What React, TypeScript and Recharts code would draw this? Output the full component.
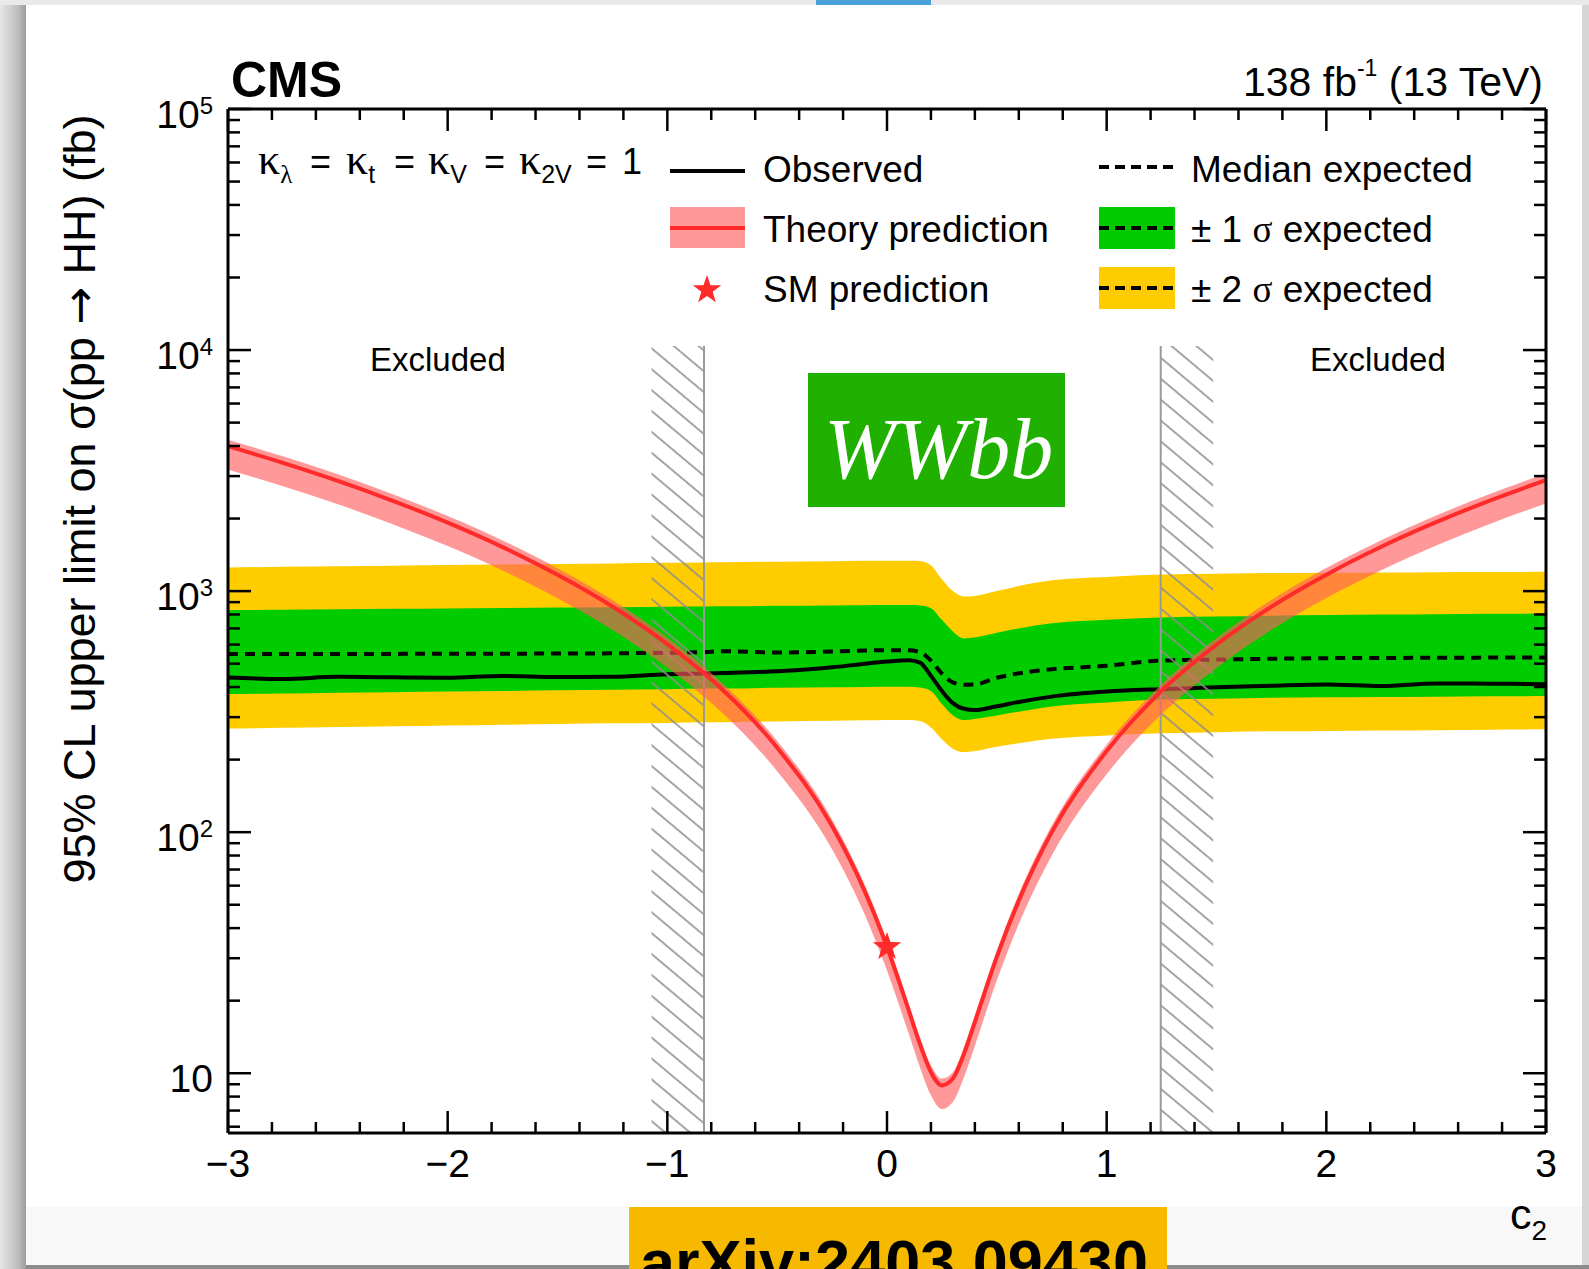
// App.tsx
//
// CMS HH → WWbb upper limit on σ(pp → HH) versus c2, log-scale y axis.
// Expected ±1σ / ±2σ bands, observed and median expected limits,
// theory prediction with its uncertainty band and the SM point.

import {
  ComposedChart,
  Area,
  Line,
  Scatter,
  XAxis,
  YAxis,
  ReferenceArea,
  ReferenceLine,
} from 'recharts';

// ─── Data ─────────────────────────────────────────────────────────────────────

const c2Grid = [
  -3, -2.75, -2.5, -2.25, -2, -1.75, -1.5, -1.25, -1, -0.833, -0.75, -0.5, -0.25, -0.1,
  0, 0.1, 0.15, 0.2, 0.25, 0.3, 0.35, 0.4, 0.5, 0.6, 0.75, 1, 1.246, 1.5, 1.75, 2, 2.25,
  2.5, 2.75, 3,
];

const theoryCentral = [
  3990, 3405, 2865, 2370, 1923, 1523, 1169, 863, 603, 456, 391, 224, 106, 56.5,
  33.4, 18.1, 13.2, 10.1, 8.9, 9.5, 12.0, 16.3, 30.4, 52, 100, 217, 383, 600, 862, 1170, 1528,
  1932, 2386, 2886,
];
const theoryUp = [
  4250, 3625, 3050, 2525, 2048, 1622, 1245, 919, 642, 486, 416, 239, 113, 60.2,
  35.6, 19.3, 14.1, 10.8, 9.5, 10.1, 12.8, 17.4, 32.4, 55.4, 106.5, 231, 408, 639, 918, 1246, 1627,
  2058, 2541, 3074,
];
const theoryDown = [
  3192, 2724, 2292, 1896, 1538, 1218, 935, 690, 482, 365, 313, 179, 85, 45.2,
  26.7, 14.5, 10.6, 8.1, 7.1, 7.6, 9.6, 13.0, 24.3, 41.6, 80, 174, 306, 480, 690, 936, 1222,
  1546, 1909, 2309,
];

const observedLimit = [
  438, 432, 441, 439, 437, 445, 440, 441, 452, 455, 457, 465, 483, 500,
  510, 517, 505, 445, 385, 343, 325, 321, 333, 347, 365, 383, 392, 399, 405, 410, 404,
  414, 413, 411,
];
const expectedLimit = [
  548, 548, 549, 549, 550, 550, 551, 552, 555, 558, 563, 556, 562, 567,
  569, 568, 558, 515, 455, 418, 409, 410, 437, 456, 474, 490, 515, 520, 524, 527, 528,
  529, 530, 531,
];
const exp1SigmaUp = [
  834, 837, 841, 844, 848, 851, 855, 858, 862, 864, 865, 869, 872, 874,
  875, 876, 872, 850, 760, 680, 636, 643, 672, 700, 735, 760, 778, 785, 791, 796, 799,
  802, 805, 807,
];
const exp1SigmaDown = [
  374, 376, 379, 381, 383, 385, 388, 390, 392, 394, 394, 397, 399, 400,
  401, 401, 398, 385, 340, 305, 292, 295, 305, 316, 332, 345, 355, 358, 361, 363, 364,
  365, 366, 367,
];
const exp2SigmaUp = [
  1254, 1261, 1268, 1275, 1282, 1289, 1296, 1303, 1310, 1315, 1317, 1324, 1331, 1335,
  1337, 1338, 1333, 1280, 1120, 1000, 950, 955, 1000, 1050, 1110, 1145, 1172, 1180, 1188,
  1192, 1195, 1198, 1200, 1202,
];
const exp2SigmaDown = [
  269, 271, 273, 275, 277, 279, 281, 283, 284, 286, 286, 288, 290, 291,
  292, 292, 289, 272, 243, 222, 215, 217, 226, 234, 244, 252, 257, 260, 262, 263, 264,
  265, 266, 267,
];

const smC2 = [0];
const smXsec = [33.4];

// excluded c2 ranges (hatched), and how high the hatching reaches
const excludedLeft = [-1.072, -0.833];
const excludedRight = [1.246, 1.485];
const excludedTop = 10400;

// ─── Axes ─────────────────────────────────────────────────────────────────────

const X_DOMAIN = [-3, 3];
const Y_DOMAIN = [5.65, 100000];

const xMajorTicks = [-3, -2, -1, 0, 1, 2, 3];
const xMajorLabels = ['−3', '−2', '−1', '0', '1', '2', '3'];
const xMinorTicks = [
  -2.8, -2.6, -2.4, -2.2, -1.8, -1.6, -1.4, -1.2, -0.8, -0.6, -0.4, -0.2,
  0.2, 0.4, 0.6, 0.8, 1.2, 1.4, 1.6, 1.8, 2.2, 2.4, 2.6, 2.8,
];

const yMajorTicks = [10, 100, 1000, 10000, 100000];
const yMajorExponents = ['', '2', '3', '4', '5'];
const yMinorTicks = [
  6, 7, 8, 9,
  20, 30, 40, 50, 60, 70, 80, 90,
  200, 300, 400, 500, 600, 700, 800, 900,
  2000, 3000, 4000, 5000, 6000, 7000, 8000, 9000,
  20000, 30000, 40000, 50000, 60000, 70000, 80000, 90000,
];

const xTicks = [...xMajorTicks, ...xMinorTicks].sort((a, b) => a - b);
const yTicks = [...yMajorTicks, ...yMinorTicks].sort((a, b) => a - b);

// ─── Style ────────────────────────────────────────────────────────────────────

const SANS = "'Liberation Sans', Arial, Helvetica, sans-serif";
const SERIF = "'Liberation Serif', 'Times New Roman', serif";

const YELLOW = '#ffcc00';
const GREEN = '#00cc00';
const RED = '#ff2a2a';
const PINK = 'rgb(255, 93, 93)';
const HATCH = '#8f8f8f';

const W = 1589;
const H = 1269;

// ─── Ticks (ROOT style: inward, mirrored on top/right) ────────────────────────

const isMajorX = (v: number) => xMajorTicks.includes(v);
const isMajorY = (v: number) => yMajorTicks.includes(v);

function BottomTick({ x, y, payload }: any) {
  const v = payload.value;
  const major = isMajorX(v);
  const idx = xMajorTicks.indexOf(v);
  return (
    <g>
      <line x1={x} x2={x} y1={y} y2={y - (major ? 22 : 11)} stroke="#000" strokeWidth={2.5} />
      {major && (
        <text x={x} y={y + 44} textAnchor="middle" fontSize={39} fontFamily={SANS} fill="#000">
          {xMajorLabels[idx]}
        </text>
      )}
    </g>
  );
}

function TopTick({ x, y, payload }: any) {
  const major = isMajorX(payload.value);
  return <line x1={x} x2={x} y1={y} y2={y + (major ? 22 : 11)} stroke="#000" strokeWidth={2.5} />;
}

function LeftTick({ x, y, payload }: any) {
  const v = payload.value;
  const major = isMajorY(v);
  const exp = yMajorExponents[yMajorTicks.indexOf(v)];
  return (
    <g>
      <line x1={x} x2={x + (major ? 23 : 12)} y1={y} y2={y} stroke="#000" strokeWidth={2.5} />
      {major && (
        <text x={x - 15} y={y + 19} textAnchor="end" fontSize={39} fontFamily={SANS} fill="#000">
          10
          {exp && (
            <tspan fontSize={24} dy={-14}>
              {exp}
            </tspan>
          )}
        </text>
      )}
    </g>
  );
}

function RightTick({ x, y, payload }: any) {
  const major = isMajorY(payload.value);
  return <line x1={x} x2={x - (major ? 23 : 12)} y1={y} y2={y} stroke="#000" strokeWidth={2.5} />;
}

// ─── Star marker ──────────────────────────────────────────────────────────────

function starPoints(cx: number, cy: number, R: number, r: number): string {
  const pts: string[] = [];
  for (let i = 0; i < 10; i++) {
    const a = -Math.PI / 2 + (i * Math.PI) / 5;
    const rad = i % 2 === 0 ? R : r;
    pts.push(`${cx + rad * Math.cos(a)},${cy + rad * Math.sin(a)}`);
  }
  return pts.join(' ');
}

function StarShape({ cx, cy }: any) {
  if (cx == null || cy == null) return null;
  return <polygon points={starPoints(cx, cy, 15, 6)} fill={RED} />;
}

// ─── Chart ────────────────────────────────────────────────────────────────────

export default function App() {
  const chartData = c2Grid.map((c2, i) => ({
    c2,
    band2: [exp2SigmaDown[i], exp2SigmaUp[i]],
    band1: [exp1SigmaDown[i], exp1SigmaUp[i]],
    expected: expectedLimit[i],
    observed: observedLimit[i],
    theoryBand: [theoryDown[i], theoryUp[i]],
    theory: theoryCentral[i],
  }));
  const smData = smC2.map((c2, i) => ({ c2, sm: smXsec[i] }));

  const hatchBoxes = [excludedLeft, excludedRight];
  const hatchEdges = [excludedLeft[1], excludedRight[0]];

  return (
    <div
      style={{
        position: 'absolute',
        left: 0,
        top: 0,
        width: W,
        height: H,
        overflow: 'hidden',
        background: '#fff',
      }}
    >
      {/* page frame around the figure */}
      <div style={{ position: 'absolute', left: 0, top: 0, width: W, height: 5, background: '#e9e9e9' }} />
      <div style={{ position: 'absolute', left: 816, top: 0, width: 115, height: 5, background: '#4a9fd6' }} />
      <div
        style={{
          position: 'absolute',
          left: 0,
          top: 5,
          width: 26,
          height: H - 5,
          background: 'linear-gradient(to right, #e6e6e6, #bdbdbd 70%, #9c9c9c)',
        }}
      />
      <div style={{ position: 'absolute', left: 1582, top: 5, width: 7, height: H - 5, background: '#d6d6d6' }} />
      <div style={{ position: 'absolute', left: 26, top: 1207, width: 1556, height: 58, background: '#f8f8f8' }} />
      <div style={{ position: 'absolute', left: 26, top: 1265, width: 1563, height: 4, background: '#8c8c8c' }} />

      <div style={{ position: 'absolute', left: 0, top: 0 }}>
        <ComposedChart
          width={W}
          height={H}
          data={chartData}
          margin={{ top: 99, right: 33, bottom: 76, left: 128 }}
        >
          <defs>
            <pattern
              id="hatch"
              patternUnits="userSpaceOnUse"
              width={12}
              height={16}
              patternTransform="rotate(40)"
            >
              <line x1={0} y1={8} x2={12} y2={8} stroke={HATCH} strokeWidth={1.6} />
            </pattern>
          </defs>

          <XAxis
            xAxisId="b"
            dataKey="c2"
            type="number"
            domain={X_DOMAIN}
            allowDataOverflow
            ticks={xTicks}
            interval={0}
            tickSize={0}
            tickMargin={0}
            tickLine={false}
            tick={BottomTick}
            axisLine={{ stroke: '#000', strokeWidth: 3 }}
            height={60}
            zIndex={500}
          />
          <XAxis
            xAxisId="t"
            orientation="top"
            dataKey="c2"
            type="number"
            domain={X_DOMAIN}
            allowDataOverflow
            ticks={xTicks}
            interval={0}
            tickSize={0}
            tickMargin={0}
            tickLine={false}
            tick={TopTick}
            axisLine={{ stroke: '#000', strokeWidth: 3 }}
            height={10}
            zIndex={500}
          />
          <YAxis
            yAxisId="l"
            type="number"
            scale="log"
            domain={Y_DOMAIN}
            allowDataOverflow
            ticks={yTicks}
            interval={0}
            tickSize={0}
            tickMargin={0}
            tickLine={false}
            tick={LeftTick}
            axisLine={{ stroke: '#000', strokeWidth: 3 }}
            width={100}
            zIndex={500}
          />
          <YAxis
            yAxisId="r"
            orientation="right"
            type="number"
            scale="log"
            domain={Y_DOMAIN}
            allowDataOverflow
            ticks={yTicks}
            interval={0}
            tickSize={0}
            tickMargin={0}
            tickLine={false}
            tick={RightTick}
            axisLine={{ stroke: '#000', strokeWidth: 3 }}
            width={10}
            zIndex={500}
          />

          <Area
            xAxisId="b"
            yAxisId="l"
            dataKey="band2"
            type="monotone"
            fill={YELLOW}
            fillOpacity={1}
            stroke="none"
            dot={false}
            activeDot={false}
            isAnimationActive={false}
            zIndex={100}
          />
          <Area
            xAxisId="b"
            yAxisId="l"
            dataKey="band1"
            type="monotone"
            fill={GREEN}
            fillOpacity={1}
            stroke="none"
            dot={false}
            activeDot={false}
            isAnimationActive={false}
            zIndex={110}
          />
          <Line
            xAxisId="b"
            yAxisId="l"
            dataKey="expected"
            type="monotone"
            stroke="#000"
            strokeWidth={4}
            strokeDasharray="10 7"
            dot={false}
            activeDot={false}
            isAnimationActive={false}
            zIndex={120}
          />
          <Line
            xAxisId="b"
            yAxisId="l"
            dataKey="observed"
            type="monotone"
            stroke="#000"
            strokeWidth={4}
            dot={false}
            activeDot={false}
            isAnimationActive={false}
            zIndex={130}
          />

          {hatchBoxes.map((r, i) => (
            <ReferenceArea
              key={`hatch-${i}`}
              xAxisId="b"
              yAxisId="l"
              x1={r[0]}
              x2={r[1]}
              y1={Y_DOMAIN[0]}
              y2={excludedTop}
              fill="url(#hatch)"
              fillOpacity={1}
              stroke="none"
              ifOverflow="hidden"
              zIndex={140}
            />
          ))}
          {hatchEdges.map((x, i) => (
            <ReferenceLine
              key={`edge-${i}`}
              xAxisId="b"
              yAxisId="l"
              segment={[
                { x, y: Y_DOMAIN[0] },
                { x, y: excludedTop },
              ]}
              stroke="#9a9a9a"
              strokeWidth={2}
              zIndex={141}
            />
          ))}

          <Area
            xAxisId="b"
            yAxisId="l"
            dataKey="theoryBand"
            type="monotone"
            fill={PINK}
            fillOpacity={0.63}
            stroke="none"
            dot={false}
            activeDot={false}
            isAnimationActive={false}
            zIndex={150}
          />
          <Line
            xAxisId="b"
            yAxisId="l"
            dataKey="theory"
            type="monotone"
            stroke={RED}
            strokeWidth={4}
            dot={false}
            activeDot={false}
            isAnimationActive={false}
            zIndex={160}
          />
          <Scatter
            xAxisId="b"
            yAxisId="l"
            data={smData}
            dataKey="sm"
            shape={StarShape}
            isAnimationActive={false}
            zIndex={170}
          />
        </ComposedChart>
      </div>

      {/* labels, legend, stamps */}
      <svg
        width={W}
        height={H}
        style={{ position: 'absolute', left: 0, top: 0, pointerEvents: 'none' }}
        fontFamily={SANS}
      >
        <text x={231} y={97} fontSize={50} fontWeight="bold">
          CMS
        </text>
        <text x={1543} y={96} fontSize={41} textAnchor="end">
          138 fb
          <tspan fontSize={23} dy={-20}>
            -1
          </tspan>
          <tspan dy={20}> (13 TeV)</tspan>
        </text>

        <text
          x={94.5}
          y={499}
          fontSize={45}
          textAnchor="middle"
          transform="rotate(-90, 94.5, 499)"
        >
          95% CL upper limit on σ(pp <tspan fontFamily="'DejaVu Sans', sans-serif">→</tspan> HH) (fb)
        </text>
        <text x={1547} y={1229} fontSize={43} textAnchor="end">
          c
          <tspan fontSize={28} dy={11}>
            2
          </tspan>
        </text>

        {/* coupling assumptions */}
        <text y={174} fontSize={36}>
          <tspan x={258} fontFamily={SERIF} fontSize={44}>κ</tspan>
          <tspan fontFamily={SERIF} fontSize={25} dy={9}>λ</tspan>
          <tspan x={310} dy={-9}>=</tspan>
          <tspan x={346} fontFamily={SERIF} fontSize={44}>κ</tspan>
          <tspan fontSize={25} dy={9}>t</tspan>
          <tspan x={394} dy={-9}>=</tspan>
          <tspan x={428} fontFamily={SERIF} fontSize={44}>κ</tspan>
          <tspan fontSize={25} dy={9}>V</tspan>
          <tspan x={484} dy={-9}>=</tspan>
          <tspan x={519} fontFamily={SERIF} fontSize={44}>κ</tspan>
          <tspan fontSize={25} dy={9}>2V</tspan>
          <tspan x={586} dy={-9}>=</tspan>
          <tspan x={622}>1</tspan>
        </text>

        {/* legend, left column */}
        <line x1={670} x2={745} y1={171} y2={171} stroke="#000" strokeWidth={4} />
        <text x={763} y={182} fontSize={37}>Observed</text>
        <rect x={670} y={207} width={75} height={41} fill={PINK} fillOpacity={0.63} />
        <line x1={670} x2={745} y1={228} y2={228} stroke={RED} strokeWidth={4} />
        <text x={763} y={242} fontSize={37}>Theory prediction</text>
        <polygon points={starPoints(707, 290, 15, 6)} fill={RED} />
        <text x={763} y={302} fontSize={37}>SM prediction</text>

        {/* legend, right column */}
        <line x1={1099} x2={1175} y1={167} y2={167} stroke="#000" strokeWidth={4} strokeDasharray="10 6" />
        <text x={1191} y={182} fontSize={37}>Median expected</text>
        <rect x={1099} y={207} width={76} height={42} fill={GREEN} />
        <line x1={1099} x2={1175} y1={228} y2={228} stroke="#000" strokeWidth={4} strokeDasharray="10 6" />
        <text x={1191} y={242} fontSize={37}>
          ± 1 <tspan fontFamily={SERIF}>σ</tspan> expected
        </text>
        <rect x={1099} y={267} width={76} height={42} fill={YELLOW} />
        <line x1={1099} x2={1175} y1={288} y2={288} stroke="#000" strokeWidth={4} strokeDasharray="10 6" />
        <text x={1191} y={302} fontSize={37}>
          ± 2 <tspan fontFamily={SERIF}>σ</tspan> expected
        </text>

        <text x={370} y={371} fontSize={33}>Excluded</text>
        <text x={1310} y={371} fontSize={33}>Excluded</text>

        {/* channel stamp */}
        <rect x={808} y={373} width={257} height={134} fill="#1fb000" />
        <text x={824} y={478} fontSize={86} fontFamily={SERIF} fontStyle="italic" fill="#fff">
          WWbb
        </text>

        {/* reference stamp */}
        <rect x={629} y={1207} width={538} height={62} fill="#f7b900" />
        <text x={640} y={1284} fontSize={63} fontWeight="bold">
          arXiv:2403.09430
        </text>
      </svg>
    </div>
  );
}
